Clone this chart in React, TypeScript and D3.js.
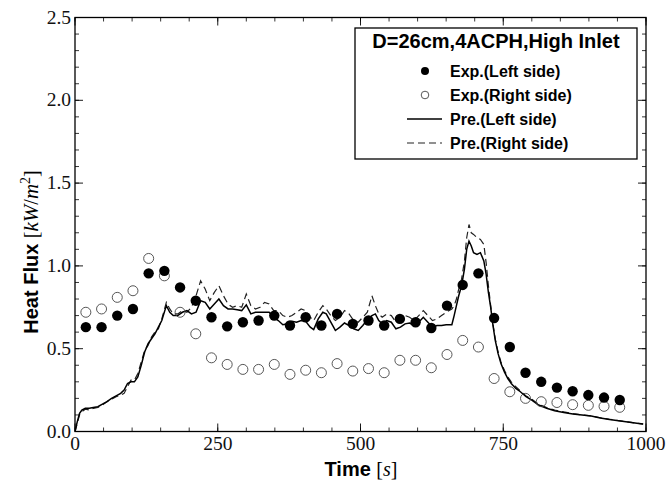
import React from "react";
import * as d3 from "d3";

const expTime = [19, 46.5, 74, 101.5, 129, 156.5, 184, 211.5, 239, 266.5, 294, 321.5, 349, 376.5, 404, 431.5, 459, 486.5, 514, 541.5, 569, 596.5, 624, 651.5, 679, 706.5, 734, 761.5, 789, 816.5, 844, 871.5, 899, 926.5, 954];
const expLeft = [0.63, 0.63, 0.70, 0.74, 0.955, 0.97, 0.87, 0.79, 0.69, 0.635, 0.66, 0.67, 0.70, 0.64, 0.69, 0.64, 0.71, 0.65, 0.67, 0.64, 0.68, 0.66, 0.625, 0.76, 0.885, 0.955, 0.685, 0.51, 0.355, 0.30, 0.265, 0.243, 0.22, 0.205, 0.19];
const expRight = [0.72, 0.74, 0.81, 0.85, 1.045, 0.94, 0.72, 0.59, 0.445, 0.405, 0.375, 0.375, 0.405, 0.345, 0.37, 0.355, 0.41, 0.365, 0.38, 0.355, 0.43, 0.43, 0.385, 0.465, 0.55, 0.51, 0.32, 0.24, 0.20, 0.18, 0.175, 0.162, 0.158, 0.152, 0.146];

const preTime = [0, 4, 8, 12, 18, 25, 32, 40, 48, 56, 64, 72, 80, 86, 92, 98, 104, 110, 116, 122, 128, 134, 140, 146, 152, 160, 166, 172, 180, 188, 196, 204, 212, 220, 228, 236, 244, 252, 260, 268, 276, 284, 292, 300, 308, 316, 324, 332, 340, 348, 356, 364, 372, 380, 388, 396, 404, 412, 418, 426, 434, 440, 448, 456, 464, 472, 480, 488, 496, 504, 512, 520, 526, 532, 538, 546, 554, 562, 570, 578, 586, 594, 602, 610, 618, 626, 634, 642, 650, 660, 664, 668, 672, 677, 682, 686, 690, 694, 698, 704, 710, 716, 720, 724, 728, 732, 736, 741, 746, 752, 758, 764, 772, 780, 790, 800, 812, 826, 840, 856, 872, 888, 904, 920, 936, 952, 968, 984, 995];
const preLeft = [0.00, 0.06, 0.11, 0.13, 0.14, 0.14, 0.145, 0.15, 0.165, 0.18, 0.20, 0.215, 0.23, 0.25, 0.29, 0.30, 0.30, 0.33, 0.40, 0.48, 0.53, 0.56, 0.59, 0.63, 0.67, 0.76, 0.72, 0.70, 0.70, 0.72, 0.73, 0.71, 0.72, 0.79, 0.78, 0.74, 0.77, 0.80, 0.76, 0.74, 0.74, 0.735, 0.73, 0.765, 0.71, 0.72, 0.72, 0.72, 0.72, 0.69, 0.67, 0.645, 0.65, 0.665, 0.66, 0.67, 0.665, 0.63, 0.615, 0.68, 0.72, 0.71, 0.66, 0.61, 0.63, 0.655, 0.64, 0.62, 0.61, 0.64, 0.675, 0.70, 0.71, 0.67, 0.65, 0.67, 0.66, 0.62, 0.63, 0.65, 0.655, 0.64, 0.66, 0.69, 0.66, 0.63, 0.64, 0.64, 0.645, 0.645, 0.70, 0.76, 0.82, 0.88, 0.98, 1.10, 1.15, 1.12, 1.08, 1.07, 1.08, 1.03, 0.95, 0.84, 0.75, 0.64, 0.55, 0.47, 0.41, 0.36, 0.32, 0.29, 0.26, 0.24, 0.21, 0.19, 0.16, 0.14, 0.125, 0.115, 0.105, 0.10, 0.093, 0.082, 0.072, 0.065, 0.057, 0.05, 0.045];
const preRight = [0.00, 0.05, 0.10, 0.12, 0.135, 0.13, 0.14, 0.145, 0.16, 0.18, 0.195, 0.21, 0.22, 0.23, 0.27, 0.31, 0.31, 0.35, 0.42, 0.49, 0.52, 0.57, 0.60, 0.62, 0.68, 0.78, 0.74, 0.71, 0.71, 0.73, 0.72, 0.75, 0.82, 0.91, 0.86, 0.79, 0.84, 0.88, 0.82, 0.77, 0.75, 0.76, 0.75, 0.83, 0.76, 0.74, 0.75, 0.78, 0.77, 0.73, 0.73, 0.70, 0.69, 0.70, 0.72, 0.74, 0.73, 0.69, 0.67, 0.72, 0.76, 0.74, 0.70, 0.67, 0.69, 0.73, 0.71, 0.67, 0.66, 0.69, 0.72, 0.82, 0.76, 0.71, 0.69, 0.71, 0.70, 0.66, 0.67, 0.70, 0.69, 0.67, 0.70, 0.73, 0.70, 0.67, 0.68, 0.70, 0.72, 0.74, 0.76, 0.80, 0.86, 0.92, 1.03, 1.17, 1.25, 1.20, 1.19, 1.17, 1.16, 1.13, 1.02, 0.88, 0.76, 0.65, 0.56, 0.48, 0.42, 0.37, 0.33, 0.30, 0.27, 0.245, 0.215, 0.195, 0.165, 0.145, 0.13, 0.118, 0.108, 0.10, 0.094, 0.083, 0.074, 0.066, 0.058, 0.05, 0.045];

const xTicks = [0, 250, 500, 750, 1000];
const yTicks = [0, 0.5, 1.0, 1.5, 2.0, 2.5];
const legendTitle = "D=26cm,4ACPH,High Inlet";
const legendLabels = ["Exp.(Left side)", "Exp.(Right side)", "Pre.(Left side)", "Pre.(Right side)"];

const W = 666, H = 485;
const L = 75, R = 646, T = 17.5, B = 431.5;

export default function App() {
  const x = d3.scaleLinear().domain([0, 1000]).range([L, R]);
  const y = d3.scaleLinear().domain([0, 2.5]).range([B, T]);
  const line = d3.line<number>().x((_, i) => x(preTime[i])).y((d) => y(d));
  const xMinor = d3.range(0, 1001, 50);
  const yMinor = d3.range(0, 26, 1).map((v) => v / 10);
  const serif = "'Liberation Serif', 'DejaVu Serif', serif";
  const sans = "'Liberation Sans', Arial, sans-serif";
  const lx = 355, ly = 28, lw = 282, lh = 131;
  const entryY = [71, 95, 119, 143];
  const markX = 425;
  const textX = 450;
  return (
    <div style={{ position: "absolute", left: 0, top: 0 }}>
      <svg width={W} height={H} style={{ display: "block", background: "#fff" }}>
        <defs>
          <clipPath id="plot">
            <rect x={L} y={T} width={R - L} height={B - T} />
          </clipPath>
        </defs>
        {xMinor.map((v) => (
          <g key={"xm" + v}>
            <line x1={x(v)} x2={x(v)} y1={B} y2={B - 4} stroke="#000" strokeWidth={0.8} />
            <line x1={x(v)} x2={x(v)} y1={T} y2={T + 4} stroke="#000" strokeWidth={0.8} />
          </g>
        ))}
        {yMinor.map((v) => (
          <g key={"ym" + v}>
            <line x1={L} x2={L + 4} y1={y(v)} y2={y(v)} stroke="#000" strokeWidth={0.8} />
            <line x1={R} x2={R - 4} y1={y(v)} y2={y(v)} stroke="#000" strokeWidth={0.8} />
          </g>
        ))}
        {xTicks.map((v) => (
          <g key={"xt" + v}>
            <line x1={x(v)} x2={x(v)} y1={B} y2={B - 8} stroke="#000" strokeWidth={0.9} />
            <line x1={x(v)} x2={x(v)} y1={T} y2={T + 8} stroke="#000" strokeWidth={0.9} />
            <text x={x(v)} y={450} textAnchor="middle" fontFamily={serif} fontSize={19.5} fill="#111">{v}</text>
          </g>
        ))}
        {yTicks.map((v) => (
          <g key={"yt" + v}>
            <line x1={L} x2={L + 8} y1={y(v)} y2={y(v)} stroke="#000" strokeWidth={0.9} />
            <line x1={R} x2={R - 8} y1={y(v)} y2={y(v)} stroke="#000" strokeWidth={0.9} />
            <text x={L - 4} y={y(v) + 6} textAnchor="end" fontFamily={serif} fontSize={19.5} fill="#111">{v.toFixed(1)}</text>
          </g>
        ))}
        <g clipPath="url(#plot)">
          <path d={line(preRight) || ""} fill="none" stroke="#222" strokeWidth={1.2} strokeDasharray="7,4" />
          <path d={line(preLeft) || ""} fill="none" stroke="#000" strokeWidth={1.5} />
        </g>
        {expRight.map((v, i) => (
          <circle key={"r" + i} cx={x(expTime[i])} cy={y(v)} r={5} fill="none" stroke="#444" strokeWidth={0.9} />
        ))}
        {expLeft.map((v, i) => (
          <circle key={"l" + i} cx={x(expTime[i])} cy={y(v)} r={5.2} fill="#000" />
        ))}
        <rect x={L} y={T} width={R - L} height={B - T} fill="none" stroke="#000" strokeWidth={1.3} />
        <rect x={lx} y={ly} width={lw} height={lh} fill="#fff" stroke="#000" strokeWidth={1.3} />
        <text x={lx + lw / 2} y={ly + 20} textAnchor="middle" fontFamily={sans} fontWeight="bold" fontSize={20}>{legendTitle}</text>
        <circle cx={markX} cy={entryY[0]} r={4} fill="#000" />
        <circle cx={markX} cy={entryY[1]} r={3.8} fill="none" stroke="#444" strokeWidth={0.9} />
        <line x1={markX - 18} x2={markX + 17} y1={entryY[2]} y2={entryY[2]} stroke="#000" strokeWidth={1.5} />
        <line x1={markX - 18} x2={markX + 17} y1={entryY[3]} y2={entryY[3]} stroke="#222" strokeWidth={1.2} strokeDasharray="7,4" />
        {legendLabels.map((t, i) => (
          <text key={t} x={textX} y={entryY[i] + 6} fontFamily={sans} fontWeight="bold" fontSize={16}>{t}</text>
        ))}
        <text x={361} y={476} textAnchor="middle" fontSize={20}>
          <tspan fontFamily={sans} fontWeight="bold">Time </tspan>
          <tspan fontFamily={serif}>[</tspan>
          <tspan fontFamily={serif} fontStyle="italic">s</tspan>
          <tspan fontFamily={serif}>]</tspan>
        </text>
        <text transform={`translate(38, 252) rotate(-90)`} textAnchor="middle" fontSize={20}>
          <tspan fontFamily={sans} fontWeight="bold">Heat Flux </tspan>
          <tspan fontFamily={serif}>[</tspan>
          <tspan fontFamily={serif} fontStyle="italic" fontSize={21}>kW</tspan>
          <tspan fontFamily={serif}>/</tspan>
          <tspan fontFamily={serif} fontStyle="italic" fontSize={21}>m</tspan>
          <tspan fontFamily={serif} fontSize={14} dy={-8}>2</tspan>
          <tspan fontFamily={serif} dy={8}>]</tspan>
        </text>
      </svg>
    </div>
  );
}
